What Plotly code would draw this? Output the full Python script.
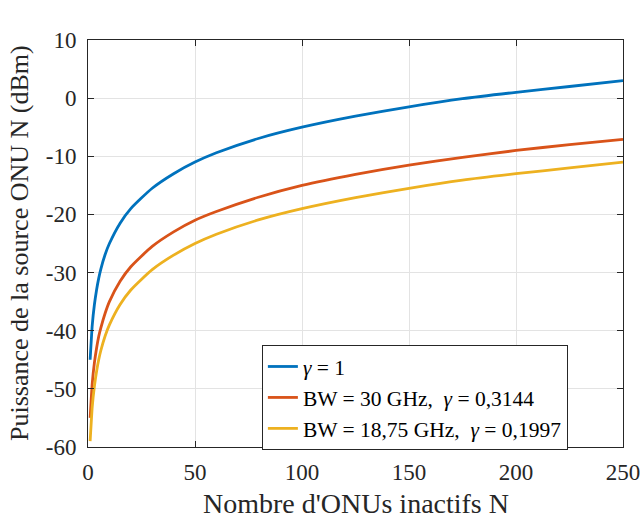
import plotly.graph_objects as go

N = [1, 2, 3, 4, 5, 6, 8, 10, 15, 20, 30, 40, 50, 60, 80, 100, 125, 150, 175, 200, 225, 250]
p_gamma1 = [-45, -39, -35.5, -33, -31, -29.4, -26.9, -25, -21.5, -19, -15.5, -13, -11, -9.4, -6.9, -5, -3.1, -1.5, -0.1, 1, 2, 3]
p_bw30 = [-55, -49, -45.5, -43, -41, -39.5, -37, -35, -31.5, -29, -25.5, -23, -21, -19.5, -17, -15, -13.1, -11.5, -10.2, -9, -8, -7.1]
p_bw1875 = [-59, -53, -49.5, -47, -45, -43.4, -40.9, -39, -35.5, -33, -29.5, -27, -25, -23.4, -20.9, -19, -17.1, -15.5, -14.1, -13, -12, -11]

x_ticks = [0, 50, 100, 150, 200, 250]
y_ticks = [-60, -50, -40, -30, -20, -10, 0, 10]
y_ticklabels = ["-60", "-50", "-40", "-30", "-20", "-10", "0", "10"]

names = ["<i>γ</i> = 1", "BW = 30 GHz,  <i>γ</i> = 0,3144", "BW = 18,75 GHz,  <i>γ</i> = 0,1997"]
colors = ["#0072BD", "#D95319", "#EDB120"]

fig = go.Figure()
for y, name, c in zip([p_gamma1, p_bw30, p_bw1875], names, colors):
    fig.add_trace(go.Scatter(x=N, y=y, mode="lines", name=name,
                             line=dict(color=c, width=2.8, shape="spline", smoothing=0.6)))

font = "Liberation Serif, Times New Roman, serif"
axis_common = dict(showgrid=True, gridcolor="#e3e3e3", gridwidth=1,
                   showline=True, linecolor="#262626", linewidth=1, mirror="ticks",
                   ticks="inside", ticklen=6, tickcolor="#262626",
                   tickfont=dict(family=font, size=23, color="#262626"),
                   zeroline=False, automargin=False)

fig.update_layout(
    width=643, height=521,
    margin=dict(l=88, r=20, t=40, b=74),
    paper_bgcolor="white", plot_bgcolor="white",
    font=dict(family=font, color="#262626"),
    xaxis=dict(range=[0, 250], tickvals=x_ticks, ticklabelstandoff=4, **axis_common),
    yaxis=dict(range=[-60, 10], tickvals=y_ticks, ticktext=y_ticklabels, ticklabelstandoff=6, **axis_common),
    legend=dict(x=0.325, y=0.2506, xanchor="left", yanchor="top",
                bgcolor="white", bordercolor="#262626", borderwidth=1,
                font=dict(family=font, size=21.5, color="black"),
                tracegroupgap=0),
    showlegend=True,
    annotations=[
        dict(text="Nombre d'ONUs inactifs N", xref="paper", yref="paper", x=0.5, y=-0.1376,
             xanchor="center", yanchor="middle", showarrow=False,
             font=dict(family=font, size=28, color="#262626")),
        dict(text="Puissance de la source ONU N (dBm)", xref="paper", yref="paper", x=-0.128, y=0.5,
             xanchor="center", yanchor="middle", showarrow=False, textangle=-90,
             font=dict(family=font, size=26, color="#262626")),
    ],
)

fig.write_html("out.html", config={"displayModeBar": False},
               post_script="document.body.style.margin='0px';document.body.style.overflow='hidden';")
